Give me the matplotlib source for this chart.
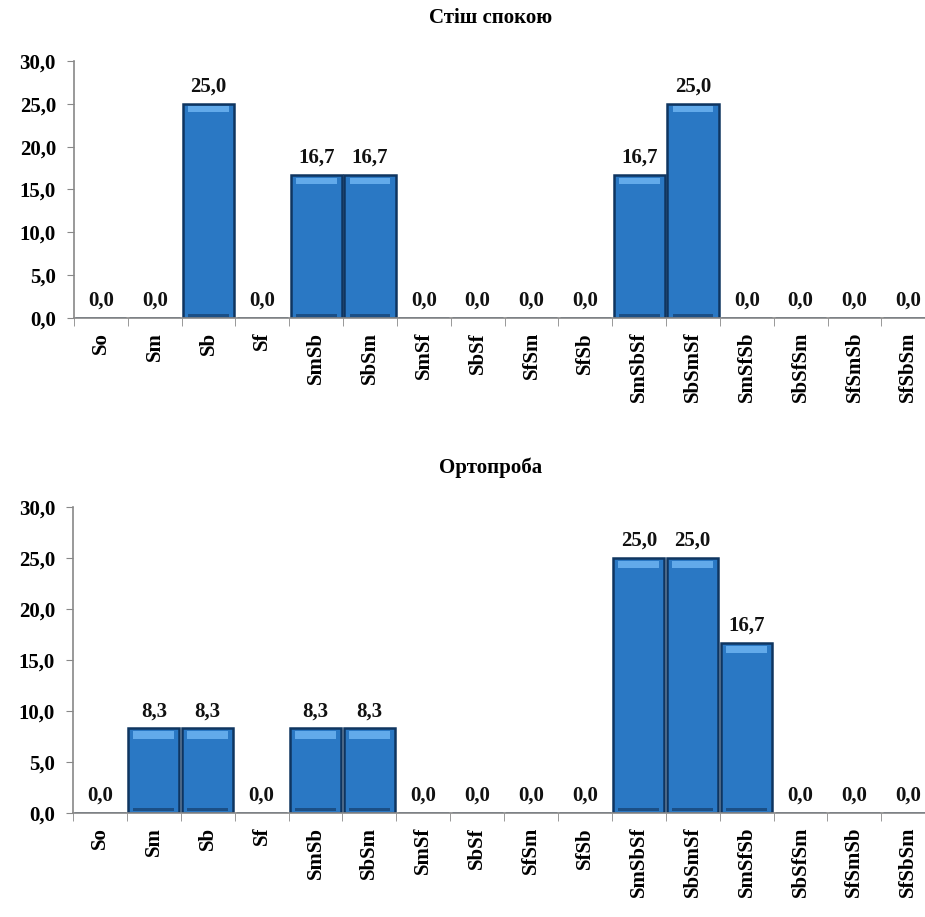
import matplotlib
matplotlib.use("Agg")
import matplotlib.pyplot as plt
import numpy as np

categories = ["So", "Sm", "Sb", "Sf", "SmSb", "SbSm", "SmSf", "SbSf", "SfSm", "SfSb",
              "SmSbSf", "SbSmSf", "SmSfSb", "SbSfSm", "SfSmSb", "SfSbSm"]
rest_values = [0.0, 0.0, 25.0, 0.0, 16.7, 16.7, 0.0, 0.0, 0.0, 0.0, 16.7, 25.0, 0.0, 0.0, 0.0, 0.0]
ortho_values = [0.0, 8.3, 8.3, 0.0, 8.3, 8.3, 0.0, 0.0, 0.0, 0.0, 25.0, 25.0, 16.7, 0.0, 0.0, 0.0]
titles = ["Стіш спокою", "Ортопроба"]
yticks = [0, 5, 10, 15, 20, 25, 30]

plt.rcParams['font.family'] = ['Liberation Serif', 'DejaVu Serif']
plt.rcParams['font.weight'] = 'bold'

fig = plt.figure(figsize=(9.25, 9.17), dpi=100)
ax1 = fig.add_axes([0.080, 0.6532, 0.931, 0.2803])
ax2 = fig.add_axes([0.079, 0.1134, 0.932, 0.3337])

face = "#2A78C4"
edge = "#0F3560"
light = "#62AAEA"

def draw(ax, values, title, ty):
    x = np.arange(len(categories))
    w = 0.95
    ax.bar(x, values, width=w, color=face, edgecolor=edge, linewidth=1.8, zorder=2)
    # bevel highlight at top of each bar
    vals = np.array(values)
    mask = vals > 0
    ax.bar(x[mask], np.full(mask.sum(), 0.7), bottom=vals[mask] - 1.0, width=w * 0.8,
           color=light, linewidth=0, zorder=3)
    ax.bar(x[mask], np.full(mask.sum(), 0.35), bottom=0.15, width=w * 0.8,
           color="#1B4F86", linewidth=0, zorder=3)
    for xi, v in zip(x, values):
        ax.annotate(f"{v:.1f}".replace(".", ","), (xi, v), xytext=(0, 5),
                    textcoords="offset points", ha="center", va="bottom",
                    fontsize=15, fontweight="bold", color="#111111")
    ax.set_xlim(-0.5, len(categories) - 0.5)
    ax.set_ylim(0, 30)
    ax.set_yticks(yticks)
    ax.set_yticklabels([f"{t:.1f}".replace(".", ",") for t in yticks],
                       fontsize=15, fontweight="bold")
    ax.set_xticks(x)
    ax.set_xticklabels(categories, rotation=90, fontsize=15, fontweight="bold")
    ax.set_xticks(np.arange(len(categories) + 1) - 0.5, minor=True)
    ax.tick_params(axis="x", which="major", length=0, pad=10)
    ax.tick_params(axis="x", which="minor", length=6, color="#888888", direction="out")
    ax.tick_params(axis="y", length=5, color="#888888", pad=8)
    for s in ["top", "right"]:
        ax.spines[s].set_visible(False)
    for s in ["left", "bottom"]:
        ax.spines[s].set_color("#888888")
        ax.spines[s].set_linewidth(1.2)
    fig.text(0.53, ty, title, ha="center", va="center", fontsize=15, fontweight="bold")

draw(ax1, rest_values, titles[0], 0.980)
draw(ax2, ortho_values, titles[1], 0.4896)

fig.savefig("out.png", dpi=100)
